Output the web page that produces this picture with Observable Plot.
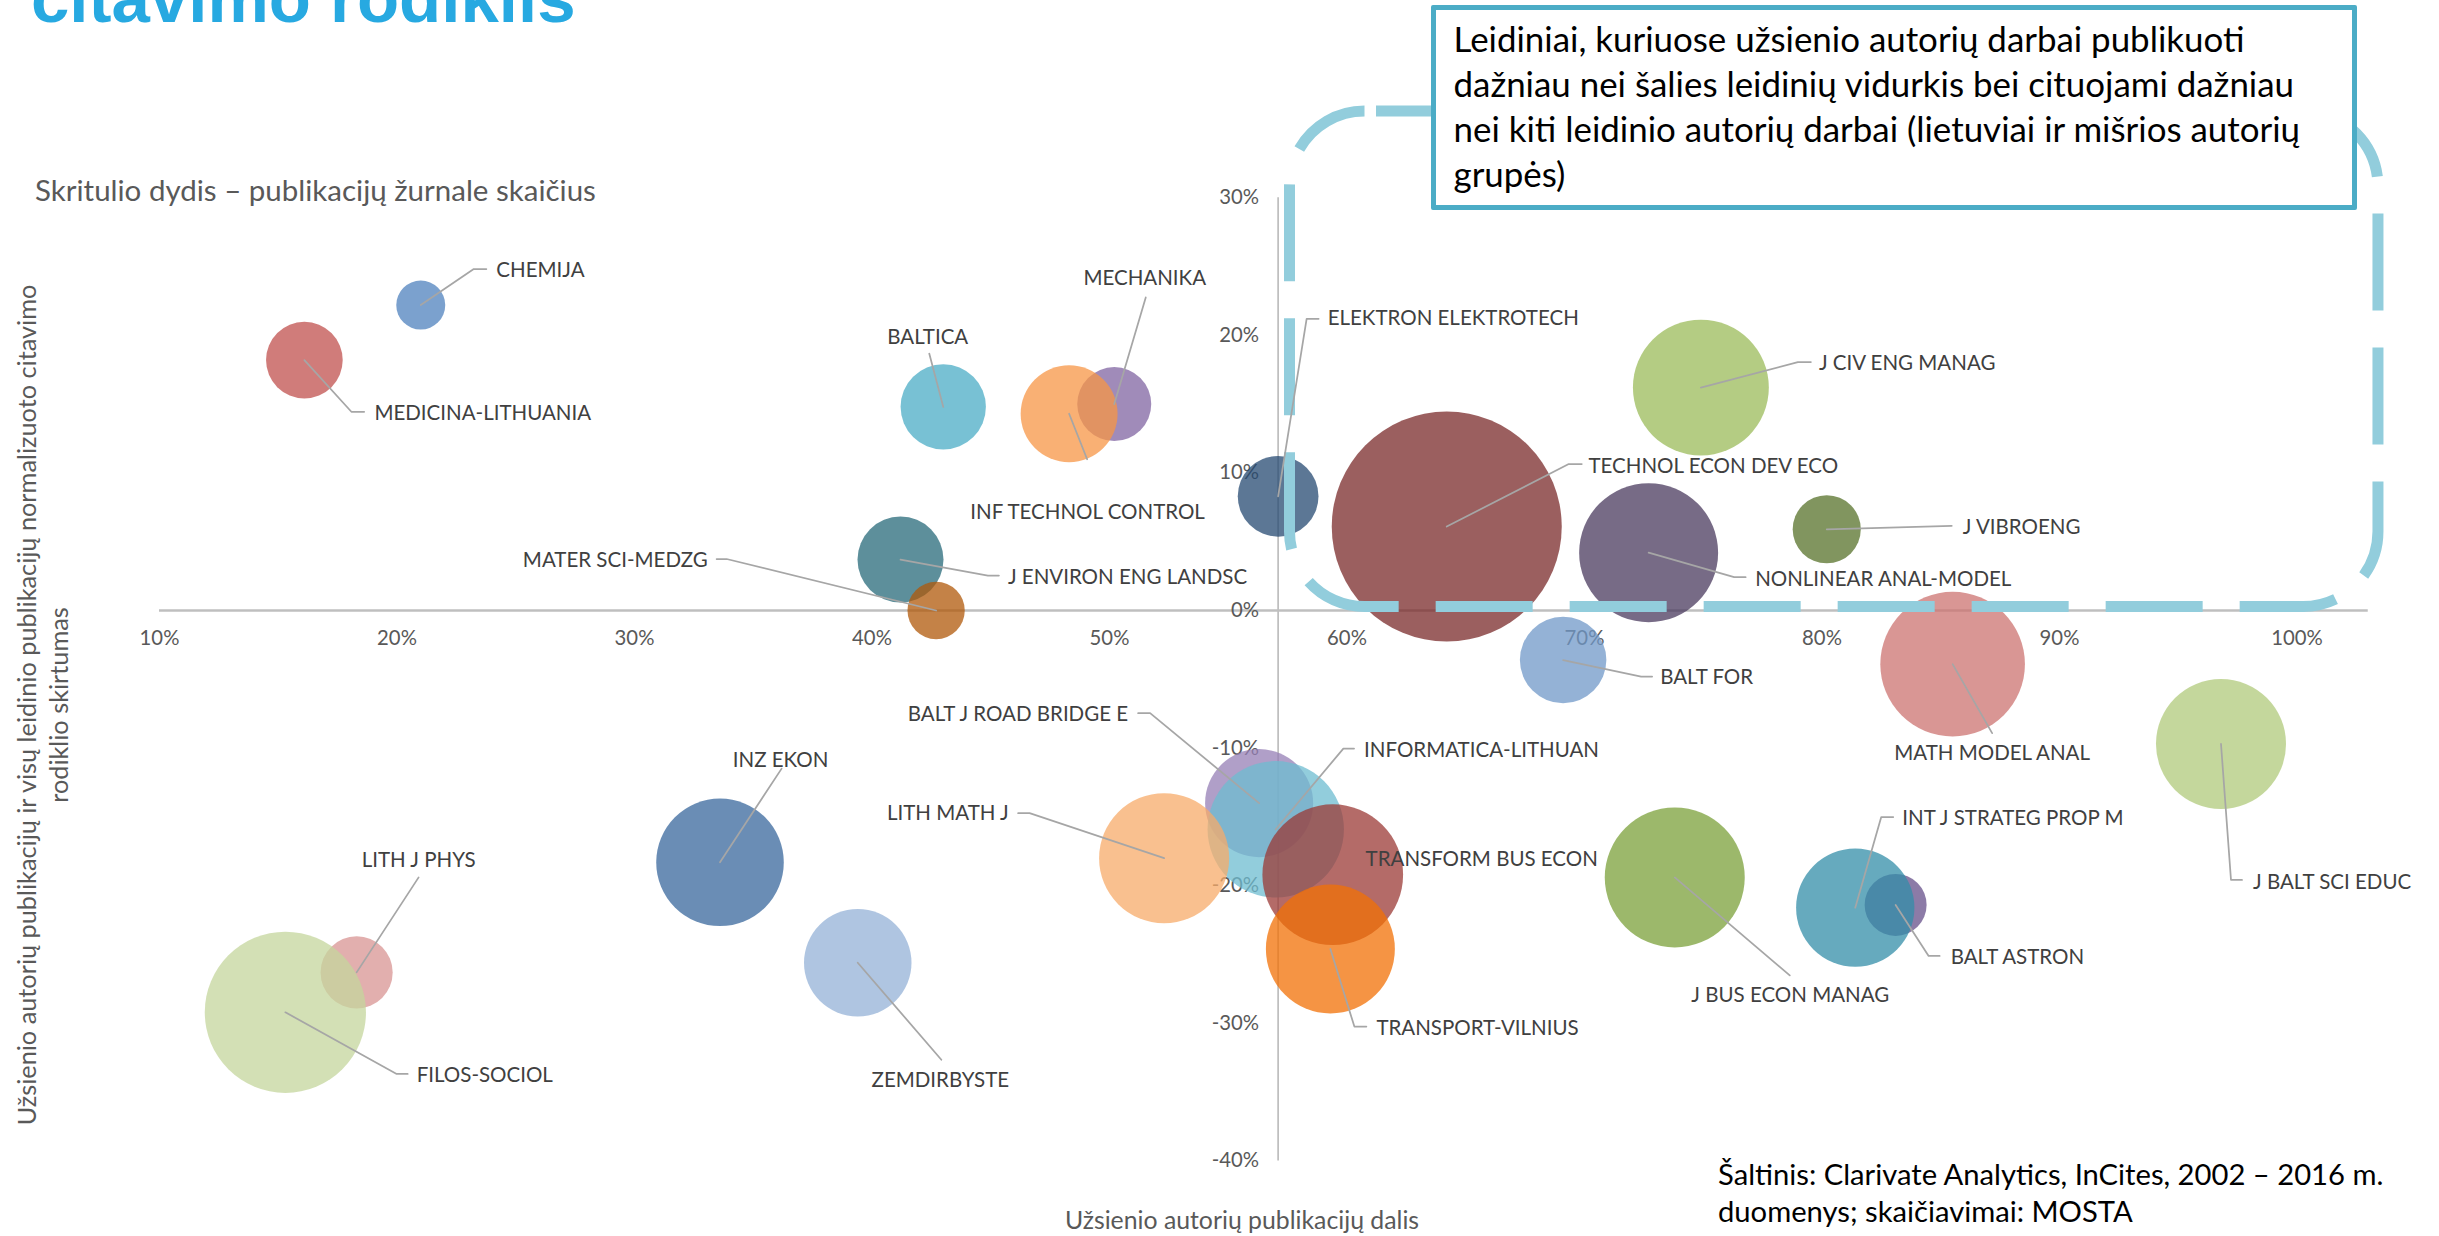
<!DOCTYPE html>
<html lang="lt">
<head>
<meta charset="utf-8">
<script src="https://cdn.jsdelivr.net/npm/d3@7"></script>
<script src="https://cdn.jsdelivr.net/npm/@observablehq/plot@0.6"></script>
<style>
  html, body { margin:0; padding:0; background:#fff; }
  #page { position:relative; width:2439px; height:1236px; overflow:hidden; background:#fff; font-family: Lato, "Open Sans", sans-serif; }
  #chart { position:absolute; left:0; top:0; }
  .abs { position:absolute; white-space:nowrap; }
  #title { left:31px; top:-36.4px; font: 700 69px/69px "Liberation Sans", Arial, sans-serif; color:#27A9E1; }
  #subtitle { left:35px; top:169.6px; font-size:29.5px; line-height:40px; color:#595959; }
  #ytitle { left:-408px; top:673px; width:900px; text-align:center; font-size:25.3px; line-height:32px; color:#595959; transform: rotate(-90deg); transform-origin: 50% 50%; }
  #xtitle { left:942px; top:1205.4px; width:600px; text-align:center; font-size:24.8px; line-height:30px; color:#595959; }
  #callout { left:1430.5px; top:5px; width:926.5px; height:205px; box-sizing:border-box; border:5px solid #4BACC6; border-radius:2px; background:#fff; padding:6px 0 0 18px; font-size:34.9px; line-height:45px; color:#000; z-index:2; }
  #source { left:1718px; top:1155.2px; font-size:29.2px; line-height:37px; color:#000; }
</style>
</head>
<body>
<div id="page">
  <div id="chart"></div>
  <div id="title" class="abs">citavimo rodiklis</div>
  <div id="subtitle" class="abs">Skritulio dydis – publikacijų žurnale skaičius</div>
  <div id="ytitle" class="abs">Užsienio autorių publikacijų ir visų leidinio publikacijų normalizuoto citavimo<br>rodiklio skirtumas</div>
  <div id="xtitle" class="abs">Užsienio autorių publikacijų dalis</div>
  <div id="callout" class="abs">Leidiniai, kuriuose užsienio autorių darbai publikuoti<br>dažniau nei šalies leidinių vidurkis bei cituojami dažniau<br>nei kiti leidinio autorių darbai (lietuviai ir mišrios autorių<br>grupės)</div>
  <div id="source" class="abs">Šaltinis: Clarivate Analytics, InCites, 2002 – 2016 m.<br>duomenys; skaičiavimai: MOSTA</div>
</div>
<script>
// ---------- data ----------
const journals = ["CHEMIJA", "MEDICINA-LITHUANIA", "BALTICA", "MECHANIKA", "INF TECHNOL CONTROL",
  "ELEKTRON ELEKTROTECH", "J ENVIRON ENG LANDSC", "MATER SCI-MEDZG", "TECHNOL ECON DEV ECO",
  "J CIV ENG MANAG", "J VIBROENG", "NONLINEAR ANAL-MODEL", "BALT FOR", "MATH MODEL ANAL",
  "J BALT SCI EDUC", "INZ EKON", "LITH J PHYS", "FILOS-SOCIOL", "ZEMDIRBYSTE",
  "BALT J ROAD BRIDGE E", "INFORMATICA-LITHUAN", "LITH MATH J", "TRANSFORM BUS ECON",
  "TRANSPORT-VILNIUS", "J BUS ECON MANAG", "BALT ASTRON", "INT J STRATEG PROP M"];
// share of foreign-author publications (x)
const foreignShare = [0.210, 0.161, 0.430, 0.502, 0.483, 0.571, 0.412, 0.427, 0.642,
  0.749, 0.802, 0.727, 0.691, 0.855, 0.968, 0.336, 0.183, 0.153, 0.394,
  0.563, 0.570, 0.523, 0.594, 0.593, 0.738, 0.831, 0.814];
// difference of normalized citation indicator (y)
const citationGap = [0.222, 0.182, 0.148, 0.150, 0.143, 0.083, 0.037, 0.000, 0.061,
  0.162, 0.059, 0.042, -0.036, -0.039, -0.097, -0.183, -0.263, -0.292, -0.256,
  -0.140, -0.159, -0.180, -0.192, -0.246, -0.194, -0.214, -0.216];
// number of publications in journal (bubble size)
const publications = [60, 147, 182, 137, 235, 163, 185, 82, 1323,
  462, 116, 483, 187, 523, 423, 407, 130, 650, 289,
  292, 465, 423, 495, 416, 490, 96, 350];
const avgForeignShare = 0.571;
const xTicks = [0.1, 0.2, 0.3, 0.4, 0.5, 0.6, 0.7, 0.8, 0.9, 1.0];
const yTicks = [0.3, 0.2, 0.1, 0, -0.1, -0.2, -0.3, -0.4];

// ---------- styles / layout ----------
const bubbleColors = ["#4F81BD", "#C0504D", "#4BACC6", "#8064A2", "#F79646", "#264A72", "#276A79",
  "#B0580A", "#7A2A2A", "#9BBB59", "#577129", "#4A395D", "#7098C8", "#CC7370", "#B0C97B",
  "#38679C", "#D89493", "#C4D59C", "#94B1D7", "#967FB5", "#6DBCD0", "#F7AB69", "#9B3936",
  "#F17006", "#7BA039", "#654F89", "#338DA8"];
// label offset from bubble centre in px [dx, dy, anchor]
const labelOffset = [
  [75.6, -34.3, "start"], [70, 53, "start"], [-15.5, -69.3, "middle"], [30.5, -125.7, "middle"],
  [18.5, 98.5, "middle"], [49.5, -177.5, "start"], [107.4, 18, "start"], [-228.5, -50.5, "end"],
  [141.7, -60.5, "start"], [118, -24.5, "start"], [136, -2, "start"], [106.5, 26.5, "start"],
  [97, 17.5, "start"], [39.5, 89, "middle"], [32, 138, "start"], [60.6, -102, "middle"],
  [62, -112, "middle"], [131.3, 62.7, "start"], [82.6, 118, "middle"], [-131, -89, "end"],
  [88.3, -79, "start"], [-155.4, -45, "end"], [32.8, -15, "start"], [46, 79.6, "start"],
  [115.5, 118, "middle"], [55, 52, "start"], [47, -89.7, "start"]];
// leader line vertices (px offsets from bubble centre)
const leaderPath = [
  [[53, -36], [65.6, -36]], [[47, 51.7], [59.8, 51.7]], [[-14, -53.3]], [[31.5, -106.7]],
  [[18, 45.5]], [[28.5, -177.5], [40.5, -177.5]], [[87.4, 16], [98.4, 16]],
  [[-209.5, -51.5], [-219.5, -51.5]], [[122, -62.5], [135, -62.5]], [[97, -25.5], [110, -25.5]],
  [[125, -3.5]], [[85.5, 24.5], [97, 24.5]], [[78, 16.5], [89, 16.5]], [[39.5, 69]],
  [[10, 136], [21, 136]], [[61.6, -93.7]], [[62, -95]], [[111.3, 61.7], [122.3, 61.7]],
  [[83.6, 97]], [[-109, -90], [-121, -90]], [[67.6, -80.7], [78.3, -80.7]],
  [[-134.5, -45], [-146, -45]], [], [[24, 77.6], [36, 77.6]], [[115, 98]],
  [[33, 51], [44, 51]], [[26, -90.7], [38, -90.7]]];
// highlighted quadrant (dashed rounded frame)
const highlightZone = {x1: 0.576, x2: 1.0343, y1: 0.0025, y2: 0.3626};

const W = 2439, H = 1236;
const M = {top: 197.2, right: 71.25, bottom: 75.6, left: 159};
const xDomain = [0.1, 1.03], yDomain = [-0.4, 0.3];
const xs = Plot.scale({x: {domain: xDomain, range: [M.left, W - M.right]}});
const ys = Plot.scale({y: {domain: yDomain, range: [H - M.bottom, M.top]}});

const data = journals.map((name, i) => ({name, x: foreignShare[i], y: citationGap[i], n: publications[i], color: bubbleColors[i]}));
const shift = (d, dx, dy) => ({x: xs.invert(xs.apply(d.x) + dx), y: ys.invert(ys.apply(d.y) + dy)});
const labels = data.map((d, i) => ({name: d.name, anchor: labelOffset[i][2], ...shift(d, labelOffset[i][0], labelOffset[i][1])}));
const leaders = data.flatMap((d, i) => leaderPath[i].length
  ? [{name: d.name, x: d.x, y: d.y}, ...leaderPath[i].map(([dx, dy]) => ({name: d.name, ...shift(d, dx, dy)}))]
  : []);
const pct = d => `${Math.round(d * 100)}%`;

const chart = Plot.plot({
  width: W, height: H,
  marginTop: M.top, marginRight: M.right, marginBottom: M.bottom, marginLeft: M.left,
  x: {domain: xDomain, axis: null},
  y: {domain: yDomain, axis: null},
  r: {type: "sqrt", domain: [0, 1323], range: [0, 115]},
  color: {type: "identity"},
  style: {fontFamily: "Lato, 'Open Sans', sans-serif", background: "transparent", overflow: "visible"},
  marks: [
    Plot.ruleY([0], {x1: xDomain[0], x2: xDomain[1], stroke: "#BFBFBF", strokeWidth: 2.5}),
    Plot.ruleX([avgForeignShare], {y1: yDomain[0], y2: yDomain[1], stroke: "#BFBFBF", strokeWidth: 1.75}),
    Plot.text(xTicks, {x: d => d, y: 0, dy: 28, text: pct, fontSize: 20.3, fill: "#595959"}),
    Plot.text(yTicks, {x: avgForeignShare, y: d => d, dx: -19, textAnchor: "end", text: pct, fontSize: 20.3, fill: "#595959"}),
    Plot.dot(data, {x: "x", y: "y", r: "n", fill: "color", fillOpacity: 0.75, sort: null}),
    Plot.rect([highlightZone], {x1: "x1", x2: "x2", y1: "y1", y2: "y2", rx: 75, fill: "none",
      stroke: "#92CDDC", strokeWidth: 11, strokeDasharray: "97 37", strokeDashoffset: 122.5}),
    Plot.line(leaders, {x: "x", y: "y", z: "name", stroke: "#A6A6A6", strokeWidth: 1.75}),
    ...["start", "middle", "end"].map(a => Plot.text(labels.filter(l => l.anchor === a),
      {x: "x", y: "y", text: "name", textAnchor: a, fontSize: 20.5, fill: "#404040"}))
  ]
});
document.getElementById("chart").appendChild(chart);
</script>
</body>
</html>
